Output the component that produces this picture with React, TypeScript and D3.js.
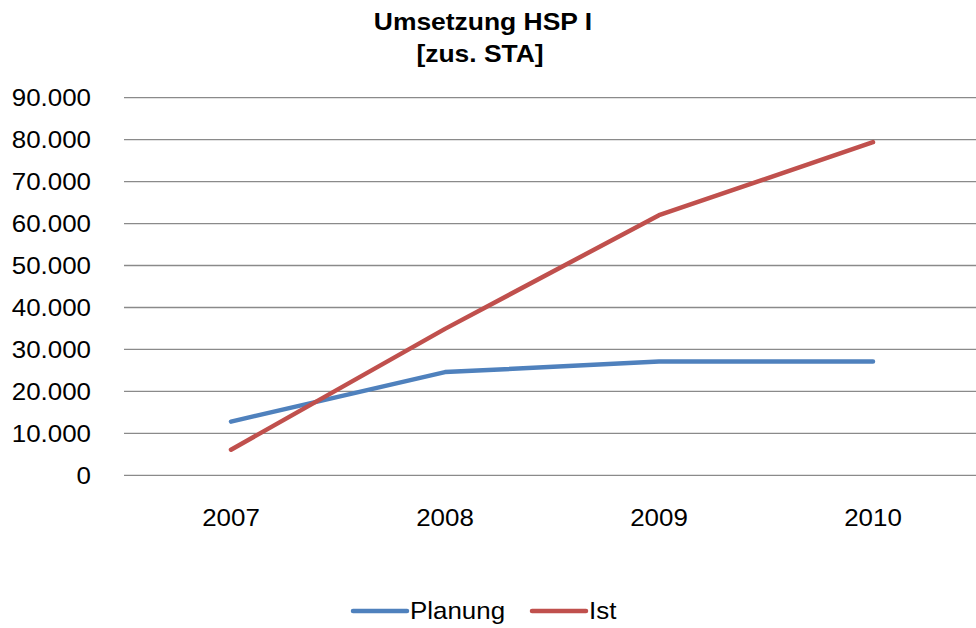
import React, { useEffect, useRef } from "react";
import * as d3 from "d3";

const years = ["2007", "2008", "2009", "2010"];
const planung = [12800, 24600, 27100, 27100];
const ist = [6100, 34900, 62000, 79400];
const yTicks = [0, 10000, 20000, 30000, 40000, 50000, 60000, 70000, 80000, 90000];
const seriesNames = ["Planung", "Ist"];
const colors = ["#4F81BD", "#C0504D"];

const App: React.FC = () => {
  const ref = useRef<SVGSVGElement>(null);

  useEffect(() => {
    document.body.style.margin = "0";
    const svg = d3.select(ref.current);
    svg.selectAll("*").remove();

    const font = "'Liberation Sans', Arial, sans-serif";
    const sx = 1.08;

    const x = d3.scaleBand().domain(years).range([124, 980]);
    const y = d3.scaleLinear().domain([0, 90000]).range([475.3, 97.7]);

    // gridlines
    svg
      .append("g")
      .selectAll("line")
      .data(yTicks)
      .enter()
      .append("line")
      .attr("x1", 124)
      .attr("x2", 976)
      .attr("y1", (d) => y(d))
      .attr("y2", (d) => y(d))
      .attr("stroke", "#8a8a8a")
      .attr("stroke-width", 1.3);

    // y labels
    const fmt = (v: number) => d3.format(",")(v).replace(/,/g, ".");
    svg
      .append("g")
      .selectAll("text")
      .data(yTicks)
      .enter()
      .append("text")
      .attr("transform", (d) => `translate(91,${y(d) + 8.6}) scale(${sx},1)`)
      .attr("text-anchor", "end")
      .attr("font-family", font)
      .attr("font-size", 24)
      .attr("fill", "#000")
      .text((d) => fmt(d));

    // x labels
    svg
      .append("g")
      .selectAll("text")
      .data(years)
      .enter()
      .append("text")
      .attr("transform", (d) => `translate(${x(d)! + x.bandwidth() / 2},526) scale(${sx},1)`)
      .attr("text-anchor", "middle")
      .attr("font-family", font)
      .attr("font-size", 24)
      .attr("fill", "#000")
      .text((d) => d);

    // lines
    const line = d3
      .line<number>()
      .x((_, i) => x(years[i])! + x.bandwidth() / 2)
      .y((d) => y(d));

    [planung, ist].forEach((s, i) => {
      svg
        .append("path")
        .datum(s)
        .attr("d", line)
        .attr("fill", "none")
        .attr("stroke", colors[i])
        .attr("stroke-width", 4.5)
        .attr("stroke-linecap", "round")
        .attr("stroke-linejoin", "round");
    });

    // title
    const title = svg
      .append("g")
      .attr("font-family", font)
      .attr("font-weight", "bold")
      .attr("font-size", 23)
      .attr("text-anchor", "middle");
    title
      .append("text")
      .attr("transform", `translate(483,29.5) scale(1.15,1)`)
      .text("Umsetzung HSP I");
    title
      .append("text")
      .attr("transform", `translate(480,61.5) scale(1.15,1)`)
      .text("[zus. STA]");

    // legend
    const legendX = [353, 532];
    seriesNames.forEach((name, i) => {
      const g = svg.append("g").attr("transform", `translate(${legendX[i]},611)`);
      g.append("line")
        .attr("x1", 0)
        .attr("x2", 54)
        .attr("y1", 0)
        .attr("y2", 0)
        .attr("stroke", colors[i])
        .attr("stroke-width", 4.5)
        .attr("stroke-linecap", "round");
      g.append("text")
        .attr("transform", `translate(57,8) scale(${sx},1)`)
        .attr("font-family", font)
        .attr("font-size", 24)
        .attr("fill", "#000")
        .text(name);
    });
  }, []);

  return <svg ref={ref} width={976} height={628} style={{ display: "block", background: "#fff" }} />;
};

export default App;
